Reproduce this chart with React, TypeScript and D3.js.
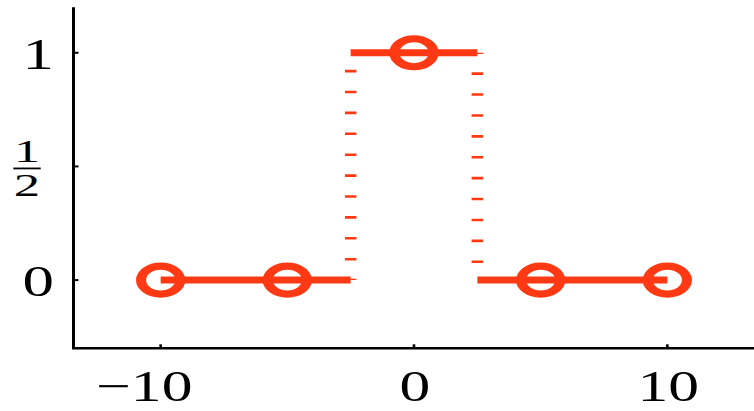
import React from "react";
import * as d3 from "d3";

// Sampled rectangular pulse: samples and the underlying step function
const sampleX = [-10, -5, 0, 5, 10];
const sampleY = [0, 0, 1, 0, 0];
const stepStarts = [-10, -2.5, 2.5];
const stepEnds = [-2.5, 2.5, 10];
const stepLevels = [0, 1, 0];
const jumpX = [-2.5, 2.5];
const jumpFrom = [0, 1];
const jumpTo = [1, 0];

// Axis ticks
const xTicks = [-10, 0, 10];
const xTickLabels = ["\u221210", "0", "10"];
const yTicks = [0, 0.5, 1];
const yTickLabels = ["0", "1/2", "1"];

const W = 754;
const H = 411;
const RED = "#ff3914";
const SERIF = "'Liberation Serif', 'Times New Roman', serif";
const SX = 1.4; // horizontal stretch of glyphs and markers

export default function App() {
  const x = d3.scaleLinear().domain([-13.44, 13.44]).range([73.5, 754.5]);
  const y = d3.scaleLinear().domain([-0.3, 1.2]).range([348.3, 7.3]);
  const line = d3
    .line<[number, number]>()
    .x((d) => x(d[0]))
    .y((d) => y(d[1]));

  const fs = 44;

  return (
    <svg
      width={W}
      height={H}
      style={{ position: "absolute", left: 0, top: 0, background: "#fff" }}
    >
      {/* step function segments */}
      {stepStarts.map((s, i) => (
        <path
          key={"seg" + i}
          d={line([
            [s, stepLevels[i]],
            [stepEnds[i], stepLevels[i]],
          ]) as string}
          stroke={RED}
          strokeWidth={7}
          fill="none"
        />
      ))}

      {/* dotted jumps */}
      {jumpX.map((jx, i) => (
        <path
          key={"jump" + i}
          d={line([
            [jx, jumpFrom[i]],
            [jx, jumpTo[i]],
          ]) as string}
          stroke={RED}
          strokeWidth={11.5}
          strokeDasharray="2.6 18.3"
          strokeDashoffset={1.3}
          fill="none"
        />
      ))}

      {/* sample markers */}
      {sampleX.map((sx, i) => (
        <g
          key={"pt" + i}
          transform={`translate(${x(sx)},${y(sampleY[i])}) scale(${SX},1)`}
        >
          <circle r={14} fill="none" stroke={RED} strokeWidth={7.2} />
        </g>
      ))}

      {/* axes */}
      <line
        x1={x.range()[0]}
        x2={x.range()[0]}
        y1={y.range()[1]}
        y2={y.range()[0]}
        stroke="#000"
        strokeWidth={3}
      />
      <line
        x1={x.range()[0] - 1.5}
        x2={W}
        y1={y.range()[0]}
        y2={y.range()[0]}
        stroke="#000"
        strokeWidth={2.6}
      />

      {/* y ticks */}
      {yTicks.map((t, i) => {
        const ty = y(t);
        const lab = yTickLabels[i];
        const parts = lab.split("/");
        return (
          <g key={"yt" + i}>
            <line
              x1={x.range()[0]}
              x2={x.range()[0] + 5}
              y1={ty}
              y2={ty}
              stroke="#000"
              strokeWidth={2}
            />
            {parts.length === 2 ? (
              <g>
                <g transform={`translate(27,${ty - 4.5}) scale(1.7,1)`}>
                  <text
                    textAnchor="middle"
                    fontFamily={SERIF}
                    fontSize={31}
                    fill="#000"
                  >
                    {parts[0]}
                  </text>
                </g>
                <line
                  x1={13.3}
                  x2={40.7}
                  y1={ty + 2}
                  y2={ty + 2}
                  stroke="#000"
                  strokeWidth={1.8}
                />
                <g transform={`translate(27,${ty + 30}) scale(1.7,1)`}>
                  <text
                    textAnchor="middle"
                    fontFamily={SERIF}
                    fontSize={31}
                    fill="#000"
                  >
                    {parts[1]}
                  </text>
                </g>
              </g>
            ) : (
              <g transform={`translate(54,${ty + 16}) scale(${SX},1)`}>
                <text
                  textAnchor="end"
                  fontFamily={SERIF}
                  fontSize={45}
                  fill="#000"
                >
                  {lab}
                </text>
              </g>
            )}
          </g>
        );
      })}

      {/* x ticks */}
      {xTicks.map((t, i) => {
        const tx = x(t);
        const lab = xTickLabels[i];
        const digits = lab.replace("\u2212", "").length;
        return (
          <g key={"xt" + i}>
            <line
              x1={tx}
              x2={tx}
              y1={y.range()[0]}
              y2={y.range()[0] - 4}
              stroke="#000"
              strokeWidth={2.6}
            />
            <g transform={`translate(${tx + 1},401) scale(${SX},1)`}>
              <text
                x={digits * 0.25 * fs}
                textAnchor="end"
                fontFamily={SERIF}
                fontSize={fs}
                fill="#000"
              >
                {lab}
              </text>
            </g>
          </g>
        );
      })}
    </svg>
  );
}
